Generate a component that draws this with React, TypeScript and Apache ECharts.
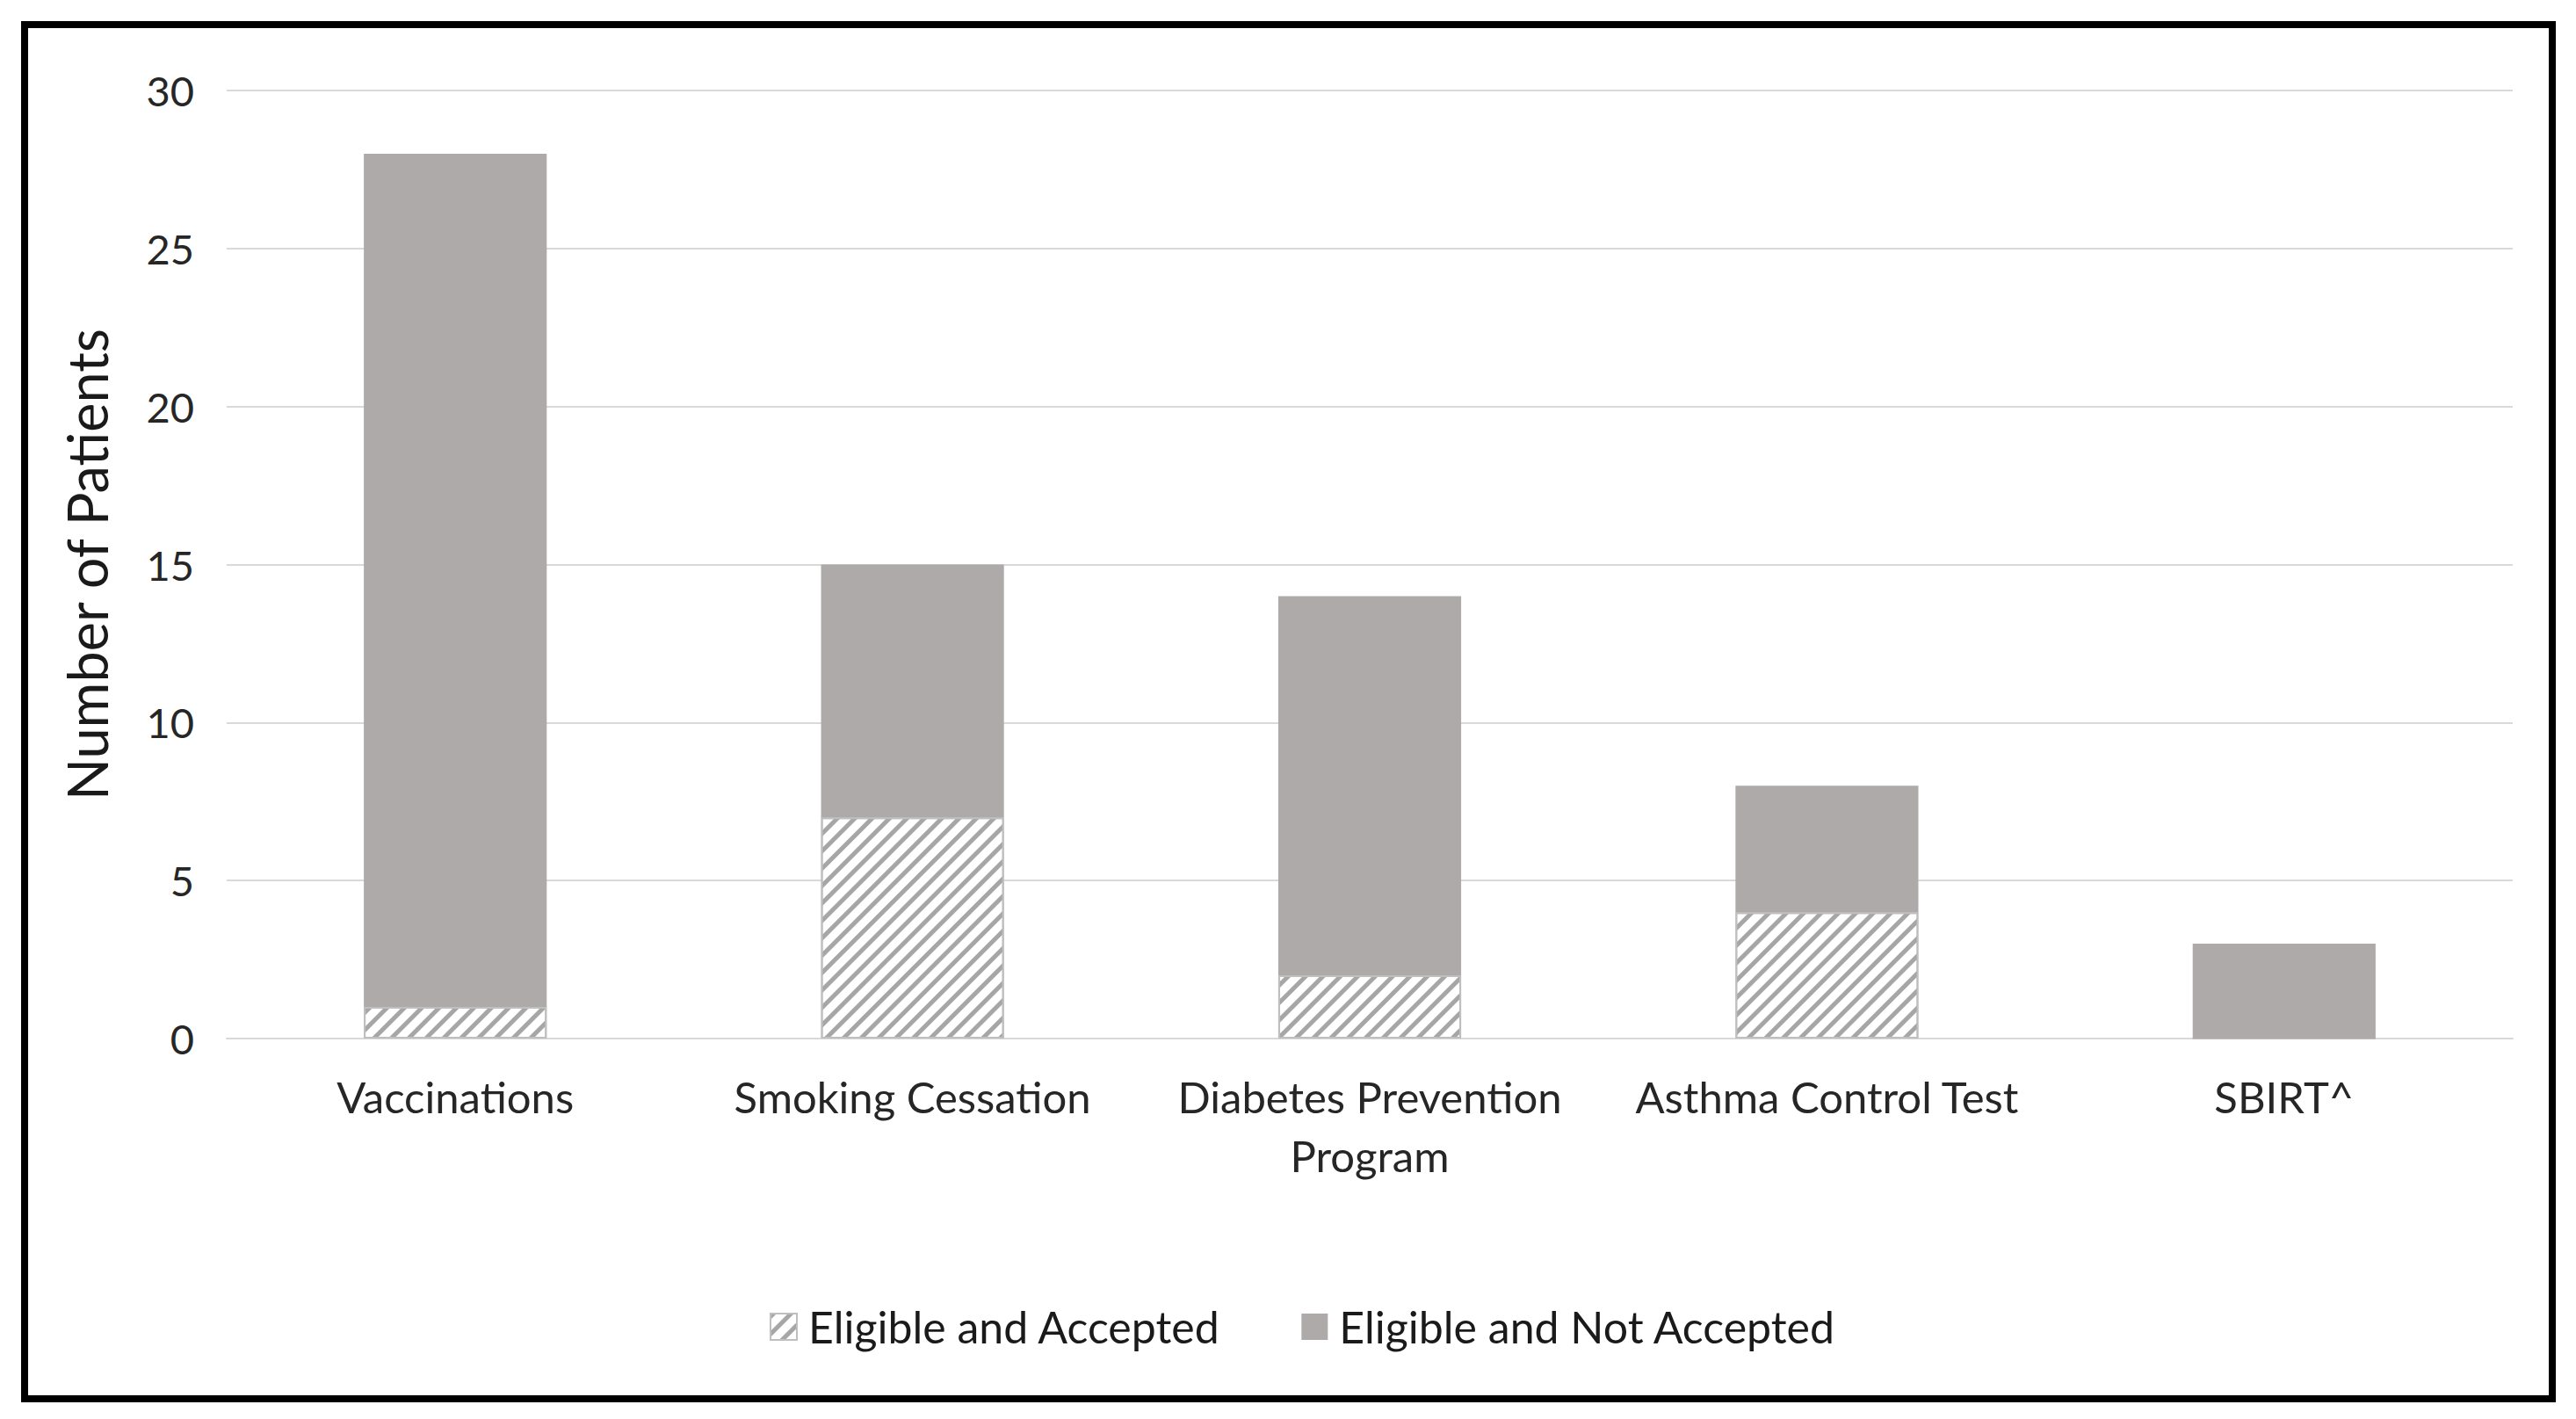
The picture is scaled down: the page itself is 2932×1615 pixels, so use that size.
import React, { useEffect, useRef } from "react";
import * as echarts from "echarts";

const categories = [
  "Vaccinations",
  "Smoking Cessation",
  "Diabetes Prevention\nProgram",
  "Asthma Control Test",
  "SBIRT^",
];
const acceptedValues = [1, 7, 2, 4, 0];
const notAcceptedValues = [27, 8, 12, 4, 3];
const seriesNames = ["Eligible and Accepted", "Eligible and Not Accepted"];
const yMin = 0;
const yMax = 30;
const yInterval = 5;

const FONT = "Lato, 'Open Sans', sans-serif";

export default function App() {
  const ref = useRef<HTMLDivElement>(null);
  useEffect(() => {
    if (!ref.current) return;
    const chart = echarts.init(ref.current, undefined, { renderer: "svg" });
    chart.setOption({
      animation: false,
      backgroundColor: "#ffffff",
      textStyle: { fontFamily: FONT },
      graphic: [
        {
          type: "rect",
          shape: { x: 28, y: 28, width: 2877, height: 1564 },
          style: { fill: "none", stroke: "#000000", lineWidth: 8 },
          silent: true,
        },
      ],
      grid: { left: 258, right: 72, top: 103, bottom: 433, containLabel: false },
      legend: {
        bottom: 1615 - 1540,
        left: 871,
        itemWidth: 30,
        itemHeight: 30,
        itemGap: 92,
        icon: "rect",
        textStyle: { fontSize: 50, color: "#1a1a1a", fontFamily: FONT, padding: [0, 0, 0, 8] },
        data: seriesNames,
      },
      xAxis: {
        type: "category",
        data: categories,
        axisLine: { show: true, lineStyle: { color: "#D9D9D9", width: 2 } },
        axisTick: { show: false },
        axisLabel: {
          fontSize: 49,
          color: "#262626",
          margin: 32,
          lineHeight: 67,
          interval: 0,
          fontFamily: FONT,
        },
      },
      yAxis: {
        type: "value",
        min: yMin,
        max: yMax,
        interval: yInterval,
        name: "Number of Patients",
        nameLocation: "middle",
        nameGap: 128,
        nameTextStyle: { fontSize: 63, color: "#1a1a1a", fontFamily: FONT },
        axisLine: { show: false },
        axisTick: { show: false },
        splitLine: { lineStyle: { color: "#D9D9D9", width: 2 } },
        axisLabel: { fontSize: 47, color: "#262626", margin: 37, fontFamily: FONT },
      },
      series: [
        {
          name: seriesNames[0],
          type: "bar",
          stack: "total",
          data: acceptedValues,
          barWidth: "40%",
          itemStyle: {
            color: "#ffffff",
            borderColor: "#BFBFBF",
            borderWidth: 2,
            decal: {
              symbol: "rect",
              symbolSize: 1,
              color: "#A6A6A6",
              backgroundColor: "#ffffff",
              dashArrayX: [1, 0],
              dashArrayY: [5, 9],
              rotation: -Math.PI / 4,
            },
          },
        },
        {
          name: seriesNames[1],
          type: "bar",
          stack: "total",
          data: notAcceptedValues,
          barWidth: "40%",
          itemStyle: { color: "#AEAAAA" },
        },
      ],
    });
    return () => chart.dispose();
  }, []);
  return (
    <div
      ref={ref}
      style={{ position: "absolute", left: 0, top: 0, width: 2932, height: 1615 }}
    />
  );
}
